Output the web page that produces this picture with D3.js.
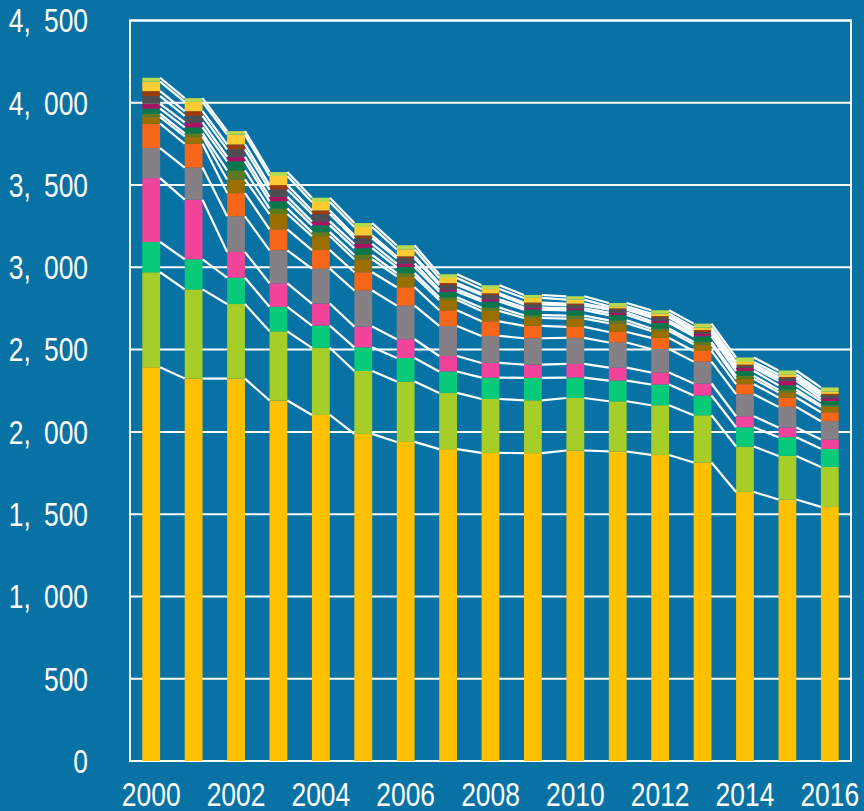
<!DOCTYPE html>
<html>
<head>
<meta charset="utf-8">
<script src="https://cdn.jsdelivr.net/npm/d3@7"></script>
<style>
  html, body { margin: 0; padding: 0; background: #0872a4; }
  svg { display: block; }
  text { font-family: "Liberation Sans", Arial, sans-serif; fill: #fff; }
</style>
</head>
<body>
<svg width="864" height="811"></svg>
<script>
const years = [2000, 2001, 2002, 2003, 2004, 2005, 2006, 2007, 2008, 2009, 2010, 2011, 2012, 2013, 2014, 2015, 2016];

// segments, bottom to top
const seriesYellow = [2393, 2324, 2324, 2191, 2103, 1988, 1939, 1895, 1872, 1871, 1887, 1881, 1860, 1814, 1635, 1589, 1544];
const seriesYellowGreen = [577, 542, 453, 420, 408, 382, 367, 342, 328, 321, 319, 305, 302, 287, 276, 265, 243];
const seriesGreen = [184, 183, 160, 149, 135, 144, 143, 130, 130, 136, 124, 126, 126, 120, 117, 114, 110];
const seriesPink = [388, 362, 156, 143, 134, 126, 114, 94, 89, 81, 83, 79, 73, 73, 67, 59, 57];
const seriesGray = [183, 195, 217, 200, 212, 219, 204, 183, 164, 160, 158, 152, 143, 133, 134, 125, 111];
const seriesOrange = [148, 145, 141, 128, 113, 111, 112, 95, 89, 75, 67, 64, 67, 65, 61, 57, 54];
const seriesGold = [40, 45, 83, 93, 85, 79, 66, 62, 63, 48, 50, 53, 42, 40, 32, 32, 33];
const seriesOlive = [20, 18, 55, 34, 24, 26, 20, 17, 20, 17, 19, 18, 15, 14, 18, 16, 10];
const seriesDarkGreen = [31, 36, 55, 43, 41, 42, 37, 34, 37, 34, 32, 32, 34, 35, 30, 26, 26];
const seriesMagenta = [30, 31, 28, 28, 24, 25, 21, 14, 14, 12, 12, 15, 12, 14, 19, 27, 16];
const seriesDarkGray = [46, 40, 45, 43, 45, 34, 32, 27, 26, 20, 18, 18, 21, 12, 10, 16, 17];
const seriesBrown = [31, 28, 30, 28, 22, 18, 12, 12, 10, 11, 11, 8, 9, 12, 10, 8, 10];
const seriesLightYellow = [57, 57, 59, 55, 51, 51, 42, 30, 26, 28, 24, 12, 15, 15, 16, 16, 14];
const seriesLightGreen = [24, 22, 22, 24, 26, 24, 25, 23, 23, 18, 20, 20, 20, 24, 27, 23, 25];

const allSeries = [seriesYellow, seriesYellowGreen, seriesGreen, seriesPink, seriesGray, seriesOrange,
  seriesGold, seriesOlive, seriesDarkGreen, seriesMagenta, seriesDarkGray, seriesBrown,
  seriesLightYellow, seriesLightGreen];
const colors = ["#ffc000", "#a6cd28", "#08ca78", "#f3449c", "#858085", "#f66618",
  "#9a6f00", "#5f7a1e", "#0a774a", "#a8145f", "#4e4d52", "#9c3b0b", "#ffcb33", "#b7da4f"];

const yTicks = [0, 500, 1000, 1500, 2000, 2500, 3000, 3500, 4000, 4500];
const xTickYears = [2000, 2002, 2004, 2006, 2008, 2010, 2012, 2014, 2016];

const svg = d3.select("svg");
const plotLeft = 130, plotRight = 851, plotTop = 20.5, plotBottom = 761;
const squeeze = 0.8; // labels in the reference use a narrow face

const x = d3.scaleBand()
  .domain(years)
  .range([plotLeft, plotRight])
  .paddingInner(0.58)
  .paddingOuter(0.29);

const y = d3.scaleLinear()
  .domain([0, 4500])
  .range([plotBottom, plotTop]);

// build table for stacking
const table = years.map((yr, i) => {
  const row = { year: yr };
  allSeries.forEach((s, k) => { row["s" + k] = s[i]; });
  return row;
});
const keys = allSeries.map((s, k) => "s" + k);
const stacked = d3.stack().keys(keys)(table);

// grid
svg.append("g")
  .selectAll("line")
  .data(yTicks)
  .enter().append("line")
  .attr("x1", plotLeft)
  .attr("x2", plotRight)
  .attr("y1", d => y(d))
  .attr("y2", d => y(d))
  .attr("stroke", "#fff")
  .attr("stroke-width", 2);

// frame
svg.append("rect")
  .attr("x", plotLeft)
  .attr("y", plotTop)
  .attr("width", plotRight - plotLeft)
  .attr("height", plotBottom - plotTop)
  .attr("fill", "none")
  .attr("stroke", "#fff")
  .attr("stroke-width", 2);

// bars
svg.append("g")
  .selectAll("g")
  .data(stacked)
  .enter().append("g")
  .attr("fill", (d, k) => colors[k])
  .selectAll("rect")
  .data(d => d)
  .enter().append("rect")
  .attr("x", d => x(d.data.year))
  .attr("width", x.bandwidth())
  .attr("y", d => y(d[1]))
  .attr("height", d => y(d[0]) - y(d[1]));

// connector lines between bar tops
const connectors = [];
stacked.forEach(layer => {
  for (let i = 0; i < layer.length - 1; i++) {
    connectors.push({ a: layer[i], b: layer[i + 1] });
  }
});
svg.append("g")
  .selectAll("line")
  .data(connectors)
  .enter().append("line")
  .attr("x1", d => x(d.a.data.year) + x.bandwidth())
  .attr("y1", d => y(d.a[1]))
  .attr("x2", d => x(d.b.data.year))
  .attr("y2", d => y(d.b[1]))
  .attr("stroke", "#fff")
  .attr("stroke-width", 2.2);

// y labels
const fmt = d => d3.format(",")(d).replace(",", ",\u2002");
svg.append("g")
  .selectAll("text")
  .data(yTicks)
  .enter().append("text")
  .attr("transform", d => `translate(88,${y(d)}) scale(${squeeze},1)`)
  .attr("dy", "0.36em")
  .attr("text-anchor", "end")
  .attr("font-size", 33)
  .text(fmt);

// x labels
svg.append("g")
  .selectAll("text")
  .data(xTickYears)
  .enter().append("text")
  .attr("transform", d => `translate(${x(d) + x.bandwidth() / 2},806) scale(${squeeze},1)`)
  .attr("text-anchor", "middle")
  .attr("font-size", 33)
  .text(d => d);
</script>
</body>
</html>
